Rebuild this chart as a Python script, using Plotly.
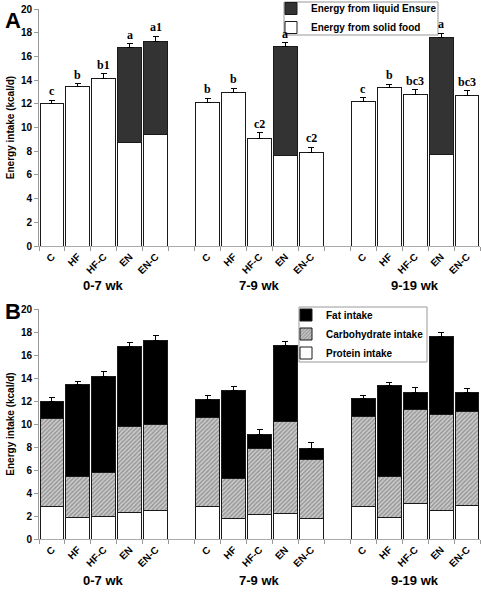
import plotly.graph_objects as go

groups = ["0-7 wk", "7-9 wk", "9-19 wk"]
diets = ["C", "HF", "HF-C", "EN", "EN-C"]

# Panel A (kcal/d)
solid_food = [12.0, 13.45, 14.15, 8.7, 9.4, 12.1, 12.95, 9.1, 7.6, 7.9, 12.2, 13.35, 12.75, 7.7, 12.7]
ensure = [None, None, None, 8.05, 7.9, None, None, None, 9.2, None, None, None, None, 9.9, None]
sem = [0.3, 0.25, 0.4, 0.3, 0.4, 0.35, 0.35, 0.45, 0.35, 0.45, 0.3, 0.3, 0.45, 0.35, 0.4]
sig = ["c", "b", "b1", "a", "a1", "b", "b", "c2", "a", "c2", "c", "b", "bc3", "a", "bc3"]

# Panel B (kcal/d)
protein = [2.85, 1.85, 1.95, 2.3, 2.45, 2.85, 1.75, 2.1, 2.25, 1.8, 2.85, 1.85, 3.05, 2.45, 2.95]
carb = [7.65, 3.6, 3.8, 7.5, 7.55, 7.75, 3.55, 5.8, 7.95, 5.1, 7.8, 3.55, 8.2, 8.4, 8.15]
fat = [1.5, 8.0, 8.4, 6.95, 7.3, 1.5, 7.65, 1.2, 6.6, 1.0, 1.55, 7.95, 1.5, 6.75, 1.6]

cats = [f"{g} {d}" for g in groups for d in diets]
gaps = ["gap1", "gap2"]
order = cats[:5] + [gaps[0]] + cats[5:10] + [gaps[1]] + cats[10:]
ticktext = []
for c in order:
    ticktext.append("" if c in gaps else c.split(" ")[-1])

FONT = "Liberation Sans, Arial, sans-serif"
edge = dict(color="#1a1a1a", width=1)

W, H = 481, 594
ML, MR, MT, MB = 39, 1, 9, 55
PW, PH = W - ML - MR, H - MT - MB


def px_x(p):
    return (p - ML) / PW


def px_y(p):
    return (H - MB - p) / PH


totals = []
for i in range(15):
    totals.append(solid_food[i] + (ensure[i] or 0))

sem_solid = [None if ensure[i] else sem[i] for i in range(15)]
sem_ens = [sem[i] if ensure[i] else None for i in range(15)]


def eb(arr):
    return dict(type="data", array=arr, arrayminus=[0] * len(arr), symmetric=False,
                color="black", thickness=1, width=3)


fig = go.Figure()
# helper traces for empty gap slots
for xa, ya in (("x", "y"), ("x2", "y2")):
    fig.add_trace(go.Bar(x=gaps, y=[None, None], xaxis=xa, yaxis=ya, showlegend=False,
                         hoverinfo="skip"))

fig.add_trace(go.Bar(x=cats, y=solid_food, name="Energy from solid food", xaxis="x", yaxis="y",
                     marker=dict(color="white", line=edge), error_y=eb(sem_solid),
                     legend="legend", legendrank=2))
fig.add_trace(go.Bar(x=cats, y=ensure, name="Energy from liquid Ensure", xaxis="x", yaxis="y",
                     marker=dict(color="#333333", line=edge), error_y=eb(sem_ens),
                     legend="legend", legendrank=1))

fig.add_trace(go.Bar(x=cats, y=protein, name="Protein intake", xaxis="x2", yaxis="y2",
                     marker=dict(color="white", line=edge), legend="legend2", legendrank=3))
fig.add_trace(go.Bar(x=cats, y=carb, name="Carbohydrate intake", xaxis="x2", yaxis="y2",
                     marker=dict(color="#a0a0a0", line=edge,
                                 pattern=dict(shape="/", fgcolor="#5a5a5a", bgcolor="#cccccc",
                                              size=3, solidity=0.45)),
                     legend="legend2", legendrank=2))
fig.add_trace(go.Bar(x=cats, y=fat, name="Fat intake", xaxis="x2", yaxis="y2",
                     marker=dict(color="black", line=edge), error_y=eb(sem),
                     legend="legend2", legendrank=1))

xcommon = dict(type="category", categoryorder="array", categoryarray=order,
               tickmode="array", tickvals=order, ticktext=ticktext, tickangle=-45,
               tickson="boundaries", ticks="outside", ticklen=4, tickcolor="#999999",
               showline=True, linecolor="#aaaaaa", linewidth=1, showgrid=False,
               tickfont=dict(family=FONT, size=10, color="black", weight="bold"),
               range=[-0.5, 16.5], zeroline=False, automargin=False)
ycommon = dict(range=[0, 20], dtick=2, ticks="outside", ticklen=4, tickcolor="#999999",
               showline=True, linecolor="#999999", linewidth=1, showgrid=False, zeroline=False,
               automargin=False,
               tickfont=dict(family=FONT, size=10, color="black", weight="bold"),
               title=dict(text="Energy intake (kcal/d)", standoff=4,
                          font=dict(family=FONT, size=10, color="black", weight="bold")))

annotations = []
for i, c in enumerate(cats):
    annotations.append(dict(x=c, y=totals[i] + sem[i], xref="x", yref="y", text=sig[i],
                            showarrow=False, yanchor="bottom", yshift=0,
                            font=dict(family="Liberation Serif, Times New Roman, serif",
                                      size=12, color="black", weight="bold")))
for gi, g in enumerate(groups):
    mid = cats[gi * 5 + 2]
    for xr, yv in (("x", px_y(285)), ("x2", px_y(580))):
        annotations.append(dict(x=mid, y=yv, xref=xr, yref="paper", text=g, showarrow=False,
                                yanchor="middle",
                                font=dict(family=FONT, size=13, color="black", weight="bold")))
for lab, yp in (("A", 21), ("B", 311)):
    annotations.append(dict(x=px_x(13), y=px_y(yp), xref="paper", yref="paper", text=lab,
                            showarrow=False, xanchor="center", yanchor="middle",
                            font=dict(family=FONT, size=22, color="black", weight="bold")))

# legend frames
shapes = []
for x0, x1, y0, y1 in ((284, 438, 2, 35), (299, 427, 307, 362)):
    shapes.append(dict(type="rect", xref="paper", yref="paper",
                       x0=px_x(x0), x1=px_x(x1), y0=px_y(y1), y1=px_y(y0),
                       line=dict(color="#999999", width=1), fillcolor="white", layer="below"))

legfont = dict(family=FONT, size=10, color="black", weight="bold")
fig.update_layout(
    width=W, height=H,
    margin=dict(l=ML, r=MR, t=MT, b=MB, autoexpand=False),
    paper_bgcolor="white", plot_bgcolor="rgba(0,0,0,0)",
    barmode="stack", bargap=0.08,
    showlegend=True,
    xaxis=dict(**xcommon, anchor="y"),
    yaxis=dict(**ycommon, domain=[px_y(246), 1.0], anchor="x"),
    xaxis2=dict(**xcommon, anchor="y2"),
    yaxis2=dict(**ycommon, domain=[0.0, px_y(309)], anchor="x2"),
    legend=dict(x=px_x(271), y=px_y(-6), xanchor="left", yanchor="top",
                bgcolor="rgba(0,0,0,0)", borderwidth=0, font=legfont, itemwidth=30,
                tracegroupgap=0, traceorder="normal"),
    legend2=dict(x=px_x(286), y=px_y(300.5), xanchor="left", yanchor="top",
                 bgcolor="rgba(0,0,0,0)", borderwidth=0, font=legfont, itemwidth=30,
                 tracegroupgap=0, traceorder="normal"),
    annotations=annotations,
    shapes=shapes,
)

fig.write_html("out.html", config={"displayModeBar": False},
               post_script="document.body.style.margin='0';")
